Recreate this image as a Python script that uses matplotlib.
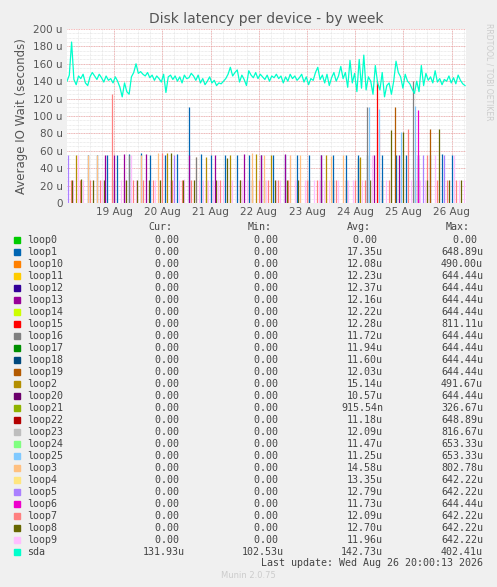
import matplotlib
matplotlib.use("Agg")
import matplotlib.pyplot as plt
import numpy as np

# ---- data ----
sda_start, sda_end = 18.02, 26.28
sda = [140,147,185,142,136,146,143,148,138,135,145,150,146,142,148,144,139,146,141,143,
       138,145,140,133,122,138,128,125,145,150,160,149,151,148,146,150,144,147,141,146,
       143,139,148,127,145,147,142,146,140,145,138,147,143,144,149,146,141,147,138,143,
       136,140,145,138,141,135,138,137,140,143,148,156,146,150,153,139,147,142,135,152,
       147,144,150,143,148,145,142,147,140,146,144,148,143,146,138,145,140,148,143,146,
       141,144,148,139,145,136,143,141,150,156,142,147,138,148,135,144,150,140,146,157,
       143,150,133,164,138,149,128,165,132,170,130,145,140,125,158,138,130,150,122,135,
       138,125,140,163,150,145,132,148,140,137,131,126,140,128,158,135,149,141,145,138,
       152,139,143,136,142,140,146,138,144,137,147,141,137,135]

loop_names = ["loop0","loop1","loop10","loop11","loop12","loop13","loop14","loop15","loop16",
              "loop17","loop18","loop19","loop2","loop20","loop21","loop22","loop23","loop24",
              "loop25","loop3","loop4","loop5","loop6","loop7","loop8","loop9","sda"]
loop_colors = ["#00cc00","#0066b3","#ff8000","#ffcc00","#330099","#990099","#ccff00","#ff0000",
               "#808080","#008f00","#00487d","#b35a00","#b38f00","#6b006b","#8fb300","#b30000",
               "#bebebe","#80ff80","#80c9ff","#ffc080","#ffe680","#aa80ff","#ee00cc","#ff8080",
               "#666600","#ffbfff","#00ffcc"]
cur = ["0.00"]*26 + ["131.93u"]
mn = ["0.00"]*26 + ["102.53u"]
avg = ["0.00","17.35u","12.08u","12.23u","12.37u","12.16u","12.22u","12.28u","11.72u","11.94u",
       "11.60u","12.03u","15.14u","10.57u","915.54n","11.18u","12.09u","11.47u","11.25u","14.58u",
       "13.35u","12.79u","11.73u","12.09u","12.70u","11.96u","142.73u"]
mx = ["0.00","648.89u","490.00u","644.44u","644.44u","644.44u","644.44u","811.11u","644.44u",
      "644.44u","644.44u","644.44u","491.67u","644.44u","326.67u","648.89u","816.67u","653.33u",
      "653.33u","802.78u","642.22u","642.22u","644.44u","642.22u","642.22u","642.22u","402.41u"]

loop9_days = [18.05,18.15,18.25,18.35,18.45,18.55,18.65,18.75,18.85,18.95,19.05,19.15,19.25,19.35,
              19.45,19.55,19.65,19.75,19.85,19.95,20.05,20.15,20.25,20.35,20.45,20.55,20.65,20.75,
              20.85,20.95,21.05,21.15,21.25,21.35,21.45,21.55,21.65,21.75,21.85,21.95,22.05,22.15,
              22.25,22.35,22.45,22.55,22.65,22.75,22.85,22.95,23.05,23.15,23.25,23.35,23.45,23.55,
              23.65,23.75,23.85,23.95,24.05,24.15,24.25,24.35,24.45,24.55,24.65,24.75,24.85,24.95,
              25.05,25.15,25.25,25.35,25.45,25.55,25.65,25.75,25.85,25.95,26.05,26.15,26.25]
loop9_vals = [28,27,55,27,28,27,27,27,55,28,27,27,27,55,27,27,27,28,27,27,55,27,27,27,28,27,
              27,27,27,27,27,27,27,27,27,27,27,27,27,27,27,27,27,27,27,27,55,27,27,27,27,27,
              27,27,27,27,27,27,27,27,27,27,27,55,85,27,27,27,55,27,27,27,55,27,27,27,55,27,
              27,27,55,27,27]
loop7_days = [18.1,18.3,18.5,18.7,18.95,19.2,19.4,19.6,19.8,20.0,20.2,20.4,20.6,20.8,21.0,21.2,
              21.4,21.6,21.8,22.0,22.2,22.4,22.6,22.8,23.0,23.2,23.4,23.6,23.8,24.0,24.2,24.5,
              24.7,24.9,25.1,25.3,25.5,25.7,25.9,26.1]
loop7_vals = [27,27,27,27,125,27,27,27,27,57,27,27,27,27,27,27,27,27,27,27,27,27,27,27,27,27,
              27,27,27,27,27,85,27,27,85,27,55,27,27,27]
loop8_days = [18.12,18.32,18.55,18.78,19.0,19.25,19.48,19.72,19.95,20.18,20.42,20.65,20.9,21.12,
              21.35,21.6,21.85,22.1,22.33,22.58,22.82,23.05,23.3,23.55,23.8,24.05,24.3,24.55,
              24.75,25.0,25.25,25.5,25.75,25.95,26.2]
loop8_vals = [27,28,27,27,27,27,27,27,27,57,27,27,27,27,52,27,27,27,27,27,27,27,27,27,27,52,27,
              27,84,82,27,27,85,27,27]
loop1_days = [18.45,18.65,18.85,19.05,19.3,19.55,19.75,20.05,20.3,20.55,20.8,21.0,21.3,21.55,
              21.8,22.05,22.3,22.55,22.8,23.05,23.3,23.55,23.8,24.05,24.25,24.55,24.85,25.05,
              25.3,25.55,25.8,26.0]
loop1_vals = [55,55,55,55,56,57,55,55,56,110,56,55,55,55,55,55,55,55,55,55,55,55,55,55,55,55,
              55,55,55,55,56,55]
loop13_days = [18.8,19.0,19.2,19.65,20.55,21.1,21.7,22.05,22.55,23.3,24.4,24.9,25.3]
loop13_vals = [55,55,56,56,55,55,56,55,56,55,55,55,55]
loop15_days = [24.45]
loop15_vals = [140]
loop25_days = [24.28,24.5,24.95,25.25]
loop25_vals = [110,108,82,112]
loop19_days = [24.82,25.55]
loop19_vals = [110,85]
loop6_days = [25.3]
loop6_vals = [107]
loop3_days = [18.45,18.65,19.55,19.9,20.7,21.85,22.1,22.65,22.85,23.5,23.75]
loop3_vals = [55,55,55,57,53,57,55,55,55,54,55]
loop2_days = [18.2,20.1,20.9,21.4,21.95,22.25,23.4,24.1]
loop2_vals = [55,57,53,55,56,55,55,53]
loop5_days = [18.05,20.25,25.4,25.85]
loop5_vals = [55,55,55,55]
loop16_days = [19.3,20.7,24.25,25.2]
loop16_vals = [55,53,110,140]

day_ticks = [19,20,21,22,23,24,25,26]
day_labels = ["19 Aug","20 Aug","21 Aug","22 Aug","23 Aug","24 Aug","25 Aug","26 Aug"]

# ---- figure ----
bg = "#f0f0f0"
fig = plt.figure(figsize=(4.97, 5.87), dpi=100, facecolor=bg)
ax = fig.add_axes([67/497, 1-203/587, 399/497, 174/587], facecolor="white")
ax.set_xlim(18.02, 26.3)
ax.set_ylim(0, 200)

for d in np.arange(18.25, 26.3, 0.25):
    ax.axvline(d, color="#dddddd", lw=0.5, ls=(0, (1, 1)), zorder=0)
for y in range(5, 200, 5):
    ax.axhline(y, color="#dddddd", lw=0.5, ls=(0, (1, 1)), zorder=0)
for d in day_ticks:
    ax.axvline(d, color="#f0a0a0", lw=0.6, ls=(0, (1, 1)), zorder=0)
for y in range(20, 201, 20):
    ax.axhline(y, color="#f0a0a0", lw=0.6, ls=(0, (1, 1)), zorder=0)

ci = {n: c for n, c in zip(loop_names, loop_colors)}
series = [("loop9", loop9_days, loop9_vals), ("loop7", loop7_days, loop7_vals),
          ("loop8", loop8_days, loop8_vals), ("loop1", loop1_days, loop1_vals),
          ("loop13", loop13_days, loop13_vals), ("loop3", loop3_days, loop3_vals),
          ("loop2", loop2_days, loop2_vals), ("loop5", loop5_days, loop5_vals),
          ("loop16", loop16_days, loop16_vals), ("loop25", loop25_days, loop25_vals),
          ("loop19", loop19_days, loop19_vals), ("loop6", loop6_days, loop6_vals),
          ("loop15", loop15_days, loop15_vals)]
for name, dd, vv in series:
    ax.vlines(dd, 0, vv, colors=ci[name], lw=0.9, zorder=2)

sx = np.linspace(sda_start, sda_end, len(sda))
ax.plot(sx, sda, color="#00ffcc", lw=0.9, zorder=3)

ax.set_xticks(day_ticks)
ax.set_xticklabels(day_labels)
ax.set_yticks(range(0, 201, 20))
ax.set_yticklabels(["0"] + [f"{v} u" for v in range(20, 201, 20)])
ax.tick_params(length=0, labelsize=7.5, colors="#555555", pad=3)
for s in ax.spines.values():
    s.set_visible(False)
ax.set_ylabel("Average IO Wait (seconds)", fontsize=8.5, color="#555555")
ax.set_title("Disk latency per device - by week", fontsize=10, color="#555555", pad=4)
fig.text(0.975, 0.96, "RRDTOOL / TOBI OETIKER", rotation=270, fontsize=5.5, color="#cccccc", va="top")

# ---- legend ----
mono = dict(family="DejaVu Sans Mono", fontsize=7.2, color="#444444", va="center")
H = 587
fig.text(172/497, 1-227/H, "Cur:", ha="right", **mono)
fig.text(272/497, 1-227/H, "Min:", ha="right", **mono)
fig.text(371/497, 1-227/H, "Avg:", ha="right", **mono)
fig.text(470/497, 1-227/H, "Max:", ha="right", **mono)

def pad(s):
    return s if s[-1].isalpha() else s + " "

for i, n in enumerate(loop_names):
    y = 1 - (240 + 12 * i) / H
    fig.patches.append(plt.Rectangle((14/497, y - 3/H), 6/497, 6/H, transform=fig.transFigure,
                                     color=loop_colors[i], figure=fig))
    fig.text(27/497, y, n, ha="left", **mono)
    fig.text(185/497, y, pad(cur[i]), ha="right", **mono)
    fig.text(284/497, y, pad(mn[i]), ha="right", **mono)
    fig.text(383/497, y, pad(avg[i]), ha="right", **mono)
    fig.text(483/497, y, pad(mx[i]), ha="right", **mono)

fig.text(483/497, 1-563/H, "Last update: Wed Aug 26 20:00:13 2026", ha="right", **mono)
fig.text(248/497, 1-576/H, "Munin 2.0.75", ha="center", fontsize=6, color="#cccccc", va="center")

fig.savefig("out.png", dpi=100, facecolor=bg)
